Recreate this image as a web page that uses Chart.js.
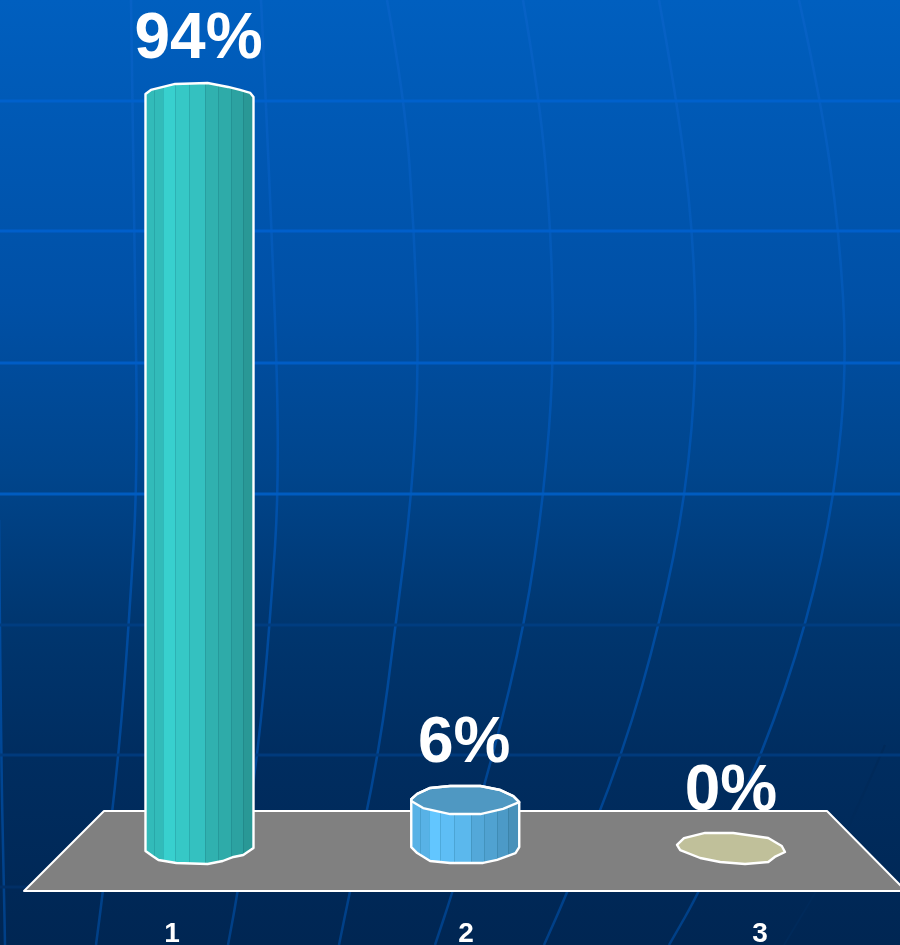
<!DOCTYPE html>
<html>
<head>
<meta charset="utf-8">
<style>
  html, body { margin: 0; padding: 0; background: #002653; overflow: hidden; }
  canvas { display: block; }
</style>
<script src="https://cdn.jsdelivr.net/npm/chart.js@4/dist/chart.umd.min.js"></script>
</head>
<body>
<!-- the floor runs a little past the right edge of the window, so the canvas does too -->
<canvas id="chart" width="907" height="945"></canvas>
<script>
const categories = ["1", "2", "3"];
const barSlots = [1, 2, 3];
const values = [94, 6, 0];

const sideColors = [[56, 208, 206], [98, 198, 255], [192, 192, 154]];
const topColors = [null, "#4f98c2", "#c0c09a"];

const FONT = '"Liberation Sans", Arial, sans-serif';
const BAR_W = 108;
const RIM_H = 15;

// many-sided cylinder rims, in units of the rim radius
const backRims = [
  [[-1, -0.2], [-0.9, -0.47], [-0.45, -0.87], [0.15, -0.93], [0.53, -0.67], [0.75, -0.47], [0.94, -0.27], [1, 0]],
  [[-1, -0.13], [-0.89, -0.47], [-0.65, -0.87], [-0.28, -1], [0.28, -1], [0.65, -0.73], [0.89, -0.33], [1, 0.07]]
];
const frontTopRim = [[-1, 0], [-0.78, 0.47], [-0.28, 0.87], [0.28, 0.87], [0.7, 0.53], [1, 0.07]];
const bottomRims = [
  [[-1, 0.13], [-0.87, 0.47], [-0.76, 0.73], [-0.43, 0.93], [0.15, 1], [0.43, 0.8], [0.63, 0.53], [0.81, 0.4], [1, -0.07]],
  [[-1, -0.13], [-0.89, 0.27], [-0.65, 0.8], [-0.28, 0.93], [0.33, 0.93], [0.59, 0.73], [0.78, 0.47], [0.93, 0.27], [1, -0.13]]
];
const flatRim = [[-1, -0.27], [-0.87, -0.73], [-0.48, -1.07], [0.04, -1.07], [0.69, -0.73], [0.94, -0.2], [1, 0.2], [0.81, 0.53], [0.69, 0.87], [0.26, 1], [-0.2, 0.87], [-0.57, 0.6], [-0.94, 0.07]];

const facetEdges = [0, 0.08, 0.16, 0.27, 0.40, 0.55, 0.67, 0.79, 0.90, 1];
const facetShades = [0.9, 0.9, 1, 0.96, 0.93, 0.85, 0.82, 0.78, 0.73];

// slide background
const bandLines = [[101, "#0061cc"], [231, "#005fcb"], [363, "#005dc6"], [494, "#005cc0"], [625, "#003d80"], [755, "#003a7c"], [887, "#012f66"]];
const meridians = [
  [[131, 0], [134, 230], [138, 470], [129, 623], [119, 753], [103, 891], [96, 945]],
  [[261, 0], [272, 230], [280, 470], [270, 623], [258, 753], [238, 891], [228, 945]],
  [[387, 0], [405, 100], [414, 230], [419, 363], [412, 494], [396, 623], [379, 753], [350, 891], [339, 945]],
  [[523, 0], [540, 100], [551, 230], [554, 363], [544, 494], [525, 623], [494, 753], [453, 891], [435, 945]],
  [[659, 0], [677, 100], [693, 230], [697, 363], [686, 494], [660, 623], [623, 753], [568, 891], [544, 945]],
  [[799, 0], [821, 100], [839, 230], [847, 363], [835, 494], [807, 623], [763, 753], [700, 891], [669, 945]],
  [[-1, 520], [1, 753], [4, 891], [5, 945]]
];

function smoothLine(ctx, pts) {
  ctx.beginPath();
  ctx.moveTo(pts[0][0], pts[0][1]);
  for (let i = 1; i < pts.length - 1; i++) {
    const mx = (pts[i][0] + pts[i + 1][0]) / 2;
    const my = (pts[i][1] + pts[i + 1][1]) / 2;
    ctx.quadraticCurveTo(pts[i][0], pts[i][1], mx, my);
  }
  const last = pts[pts.length - 1];
  ctx.lineTo(last[0], last[1]);
  ctx.stroke();
}

function tracePoints(ctx, cx, cy, rim, reverse, start) {
  const list = reverse ? rim.slice().reverse() : rim;
  list.forEach(function (p, i) {
    const x = cx + p[0] * BAR_W / 2;
    const y = cy + p[1] * RIM_H;
    if (start && i === 0) ctx.moveTo(x, y); else ctx.lineTo(x, y);
  });
}

function sideFill(ctx, cx, index) {
  const left = cx - BAR_W / 2;
  const grad = ctx.createLinearGradient(left, 0, left + BAR_W, 0);
  const c = sideColors[index];
  facetShades.forEach(function (s, i) {
    const col = "rgb(" + c.map(v => Math.round(v * s)).join(",") + ")";
    grad.addColorStop(facetEdges[i], col);
    grad.addColorStop(facetEdges[i + 1], col);
  });
  return grad;
}

function sidePath(ctx, el, i) {
  ctx.beginPath();
  tracePoints(ctx, el.x, el.base, bottomRims[i], false, true);
  tracePoints(ctx, el.x, el.y, backRims[i], true, false);
  ctx.closePath();
}

const slidePlugin = {
  id: "slide",
  beforeDraw(chart) {
    const ctx = chart.ctx;
    const w = chart.width, h = chart.height;
    ctx.save();
    const bg = ctx.createLinearGradient(0, 0, 0, h);
    bg.addColorStop(0, "#005fbf");
    bg.addColorStop(0.32, "#0050a6");
    bg.addColorStop(0.5, "#00458c");
    bg.addColorStop(0.66, "#00366f");
    bg.addColorStop(0.8, "#002d60");
    bg.addColorStop(1, "#002653");
    ctx.fillStyle = bg;
    ctx.fillRect(0, 0, w, h);

    const mer = ctx.createLinearGradient(0, 0, 0, h);
    mer.addColorStop(0, "#0762c6");
    mer.addColorStop(0.5, "#0052ad");
    mer.addColorStop(1, "#003f86");
    ctx.strokeStyle = mer;
    ctx.lineWidth = 2.5;
    meridians.forEach(pts => smoothLine(ctx, pts));

    ctx.strokeStyle = "#002a5a";
    ctx.lineWidth = 2;
    smoothLine(ctx, [[885, 745], [835, 860], [784, 945]]);

    ctx.lineWidth = 3;
    bandLines.forEach(function (b) {
      ctx.strokeStyle = b[1];
      ctx.beginPath();
      ctx.moveTo(0, b[0]);
      ctx.lineTo(w, b[0]);
      ctx.stroke();
    });
    ctx.restore();
  },
  beforeDatasetsDraw(chart) {
    const ctx = chart.ctx;
    const front = chart.scales.x;
    ctx.save();
    // floor the cylinders stand on
    ctx.beginPath();
    ctx.moveTo(front.left - 1, 891);
    ctx.lineTo(104, 811);
    ctx.lineTo(827, 811);
    ctx.lineTo(front.right - 1, 891);
    ctx.closePath();
    ctx.fillStyle = "#808080";
    ctx.fill();
    ctx.strokeStyle = "#ffffff";
    ctx.lineWidth = 2;
    ctx.lineJoin = "round";
    ctx.stroke();

    chart.getDatasetMeta(0).data.forEach(function (el, i) {
      if (values[i] > 0) {
        sidePath(ctx, el, i);
        ctx.fillStyle = sideFill(ctx, el.x, i);
        ctx.fill();
      }
    });
    ctx.restore();
  },
  afterDatasetsDraw(chart) {
    const ctx = chart.ctx;
    ctx.save();
    ctx.lineJoin = "round";
    chart.getDatasetMeta(0).data.forEach(function (el, i) {
      if (values[i] > 0) {
        // thin seams between the facets
        ctx.save();
        sidePath(ctx, el, i);
        ctx.clip();
        ctx.strokeStyle = "rgba(0,70,90,0.16)";
        ctx.lineWidth = 1;
        facetEdges.slice(1, -1).forEach(function (f) {
          const x = Math.round(el.x - BAR_W / 2 + f * BAR_W) + 0.5;
          ctx.beginPath();
          ctx.moveTo(x, el.y - RIM_H);
          ctx.lineTo(x, el.base + RIM_H);
          ctx.stroke();
        });
        ctx.restore();

        if (topColors[i]) {
          ctx.beginPath();
          tracePoints(ctx, el.x, el.y, backRims[i], false, true);
          tracePoints(ctx, el.x, el.y, frontTopRim, true, false);
          ctx.closePath();
          ctx.fillStyle = topColors[i];
          ctx.fill();
          ctx.strokeStyle = "#ffffff";
          ctx.lineWidth = 2.4;
          ctx.stroke();
        }
        sidePath(ctx, el, i);
      } else {
        ctx.beginPath();
        tracePoints(ctx, el.x, el.base, flatRim, false, true);
        ctx.closePath();
        ctx.fillStyle = topColors[i];
        ctx.fill();
      }
      ctx.strokeStyle = "#ffffff";
      ctx.lineWidth = 2.4;
      ctx.stroke();

      ctx.fillStyle = "#ffffff";
      ctx.font = "bold 64px " + FONT;
      ctx.textAlign = "center";
      ctx.textBaseline = "alphabetic";
      ctx.fillText(values[i] + "%", el.x - 1 + (values[i] === 0 ? 1 : 0), el.y - 39);
    });
    ctx.restore();
  }
};

new Chart(document.getElementById("chart"), {
  type: "bar",
  data: {
    labels: categories,
    datasets: [{
      data: values.map((v, i) => ({ x: barSlots[i], y: v })),
      xAxisID: "xBars",
      yAxisID: "y",
      barThickness: BAR_W,
      borderWidth: 0,
      backgroundColor: function (c) {
        const scale = c.chart.scales.xBars;
        const cx = scale && c.dataIndex !== undefined ? scale.getPixelForValue(barSlots[c.dataIndex]) : NaN;
        if (!Number.isFinite(cx)) return "#3ad2cf";
        return sideFill(c.chart.ctx, cx, c.dataIndex);
      }
    }]
  },
  options: {
    responsive: false,
    animation: false,
    layout: { padding: { left: 25, right: 0, top: 49, bottom: 0 } },
    plugins: { legend: { display: false }, tooltip: { enabled: false } },
    scales: {
      x: {
        type: "category",
        position: "bottom",
        grid: { display: false, drawTicks: false },
        border: { display: false },
        ticks: { color: "#ffffff", padding: 68, maxRotation: 0, font: { family: FONT, size: 28, weight: "bold" } },
        afterFit: function (s) { s.height = 96; }
      },
      xBars: {
        type: "linear",
        axis: "x",
        display: false,
        offset: false,
        min: 0.3434,
        max: 3.6623
      },
      y: {
        display: false,
        min: 0,
        max: 100
      }
    }
  },
  plugins: [slidePlugin]
});
</script>
</body>
</html>
